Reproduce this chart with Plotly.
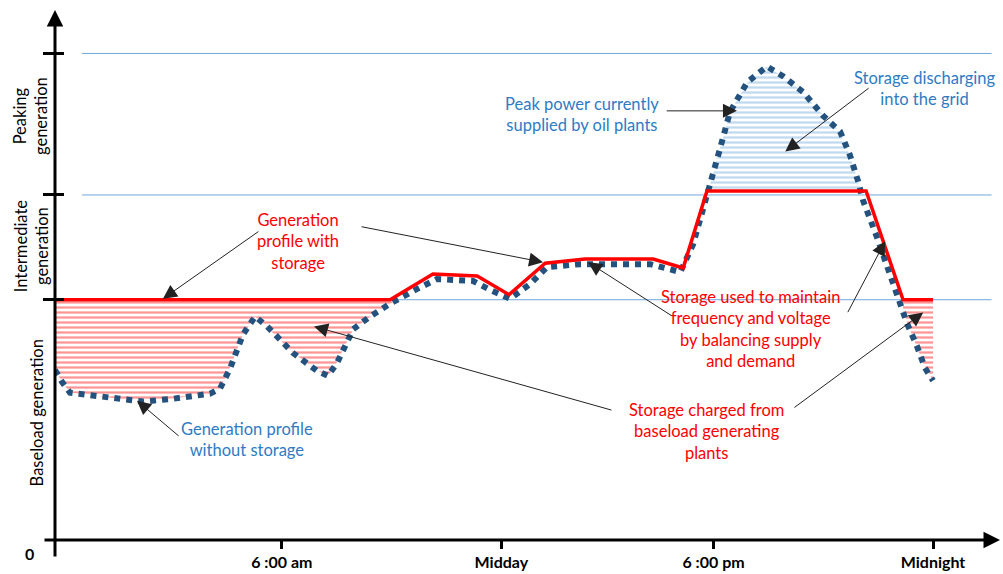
import numpy as np
import plotly.graph_objects as go

# x: hours since midnight, y: load (arbitrary units, baseload level = 100)
hours_with = [0.0, 9.16, 10.33, 11.54, 12.41, 13.40, 14.49, 16.35, 17.17, 17.82, 22.17, 23.18, 24.0]
load_with = [100, 100, 110.7, 109.9, 102.1, 115.2, 116.9, 116.9, 113.2, 145.3, 145.3, 100, 100]

hours_without = [0.0, 0.19, 0.41, 0.87, 1.97, 2.41, 3.23, 4.24, 4.51, 4.78, 5.14, 5.47, 5.80,
                 6.51, 7.16, 7.46, 7.71, 8.15, 8.61, 9.16, 9.90, 10.44, 11.43, 11.89, 12.44,
                 12.99, 13.45, 14.35, 16.27, 17.09, 17.44, 17.63, 17.91, 18.18, 18.45, 18.92,
                 19.46, 19.90, 20.45, 21.0, 21.46, 21.73, 21.95, 22.09, 22.47, 22.83, 23.05,
                 23.29, 23.56, 23.78, 24.0]
load_without = [70.8, 65.8, 61.3, 60.5, 58.4, 57.6, 58.8, 60.9, 63.0, 71.2, 85.6, 93.0, 88.9,
                77.8, 70.4, 68.3, 73.7, 87.7, 93.0, 98.4, 104.5, 108.6, 107.8, 104.1, 100.4,
                106.6, 113.6, 114.8, 114.8, 111.5, 123.0, 132.9, 147.7, 163.0, 178.2, 190.5,
                197.1, 193.0, 186.4, 176.5, 170.0, 160.1, 149.4, 141.2, 125.9, 109.5, 101.2,
                90.1, 80.7, 71.6, 66.3]

level_values = [100, 143.6, 202.5]          # baseload / intermediate / peaking limits
tick_pos = [6.2, 12.2, 18.0, 24.0]
tick_labels = ["6 :00 am", "Midday", "6 :00 pm", "Midnight"]
charge_windows = [(0.0, 9.3), (23.18, 24.0)]
discharge_windows = [(17.8, 22.2)]

X_MAX = 25.83
Y_MAX = 220.58

RED = "#FF0000"
DARKBLUE = "#24527F"
LIGHTBLUE = "#6FA8DC"
TEXTBLUE = "#2E7BC4"
FONT = "Lato"

fig = go.Figure()

# Storage charging (red hatch) regions
for a, b in charge_windows:
    xs = np.linspace(a, b, 300)
    r = np.interp(xs, hours_with, load_with)
    bl = np.interp(xs, hours_without, load_without)
    low = np.minimum(bl, r)
    fig.add_trace(go.Scatter(
        x=np.concatenate([xs, xs[::-1]]), y=np.concatenate([r, low[::-1]]),
        mode="lines", line=dict(width=0), fill="toself", fillcolor="rgba(255,0,0,0.0)",
        fillpattern=dict(shape="-", fgcolor="#FF2A2A", bgcolor="white", size=5, solidity=0.45),
        hoverinfo="skip", showlegend=False))

# Storage discharging (blue hatch) regions
for a, b in discharge_windows:
    xs = np.linspace(a, b, 300)
    r = np.interp(xs, hours_with, load_with)
    bl = np.interp(xs, hours_without, load_without)
    high = np.maximum(bl, r)
    fig.add_trace(go.Scatter(
        x=np.concatenate([xs, xs[::-1]]), y=np.concatenate([r, high[::-1]]),
        mode="lines", line=dict(width=0), fill="toself", fillcolor="rgba(91,155,213,0.0)",
        fillpattern=dict(shape="-", fgcolor="#80B3E0", bgcolor="white", size=5, solidity=0.45),
        hoverinfo="skip", showlegend=False))

# Generation profile without storage
fig.add_trace(go.Scatter(x=hours_without, y=load_without, mode="lines",
                         line=dict(color=DARKBLUE, width=6, dash="dot"),
                         hoverinfo="skip", showlegend=False))
# Generation profile with storage
fig.add_trace(go.Scatter(x=hours_with, y=load_with, mode="lines",
                         line=dict(color=RED, width=3.5),
                         hoverinfo="skip", showlegend=False))
# dummy trace for inside y ticks
fig.add_trace(go.Scatter(x=[None], y=[None], yaxis="y2", hoverinfo="skip", showlegend=False))

shapes = []
for lv in level_values:
    shapes.append(dict(type="line", xref="x", yref="y", x0=0.74, x1=25.6, y0=lv, y1=lv,
                       line=dict(color=LIGHTBLUE, width=1), layer="below"))

annotations = []
# axes with arrows
annotations.append(dict(x=0, y=1.0, xref="paper", yref="paper", ax=0, ay=548, text="",
                        showarrow=True, arrowhead=2, arrowsize=1.1, arrowwidth=3, arrowcolor="black"))
annotations.append(dict(x=1.0, y=0, xref="paper", yref="paper", ax=-957, ay=0, text="",
                        showarrow=True, arrowhead=2, arrowsize=1.1, arrowwidth=3, arrowcolor="black"))

# callout texts: (text, x, y, color)
texts = [
    ("Generation<br>profile with<br>storage", 6.64, 124.3, RED),
    ("Generation profile<br>without storage", 5.25, 42.0, TEXTBLUE),
    ("Storage charged from<br>baseload generating<br>plants", 17.82, 45.3, RED),
    ("Storage used to maintain<br>frequency and voltage<br>by balancing supply<br>and demand", 19.0, 87.7, RED),
    ("Peak power currently<br>supplied by oil plants", 14.41, 177.0, TEXTBLUE),
    ("Storage discharging<br>into the grid", 23.76, 188.1, TEXTBLUE),
]
for t, x, y, c in texts:
    annotations.append(dict(x=x, y=y, xref="x", yref="y", text=t, showarrow=False,
                            xanchor="center", yanchor="middle", align="center",
                            font=dict(family=FONT, size=16.5, color=c)))

# callout arrows: (head x, head y, tail x, tail y)
arrows = [
    (2.95, 100.4, 5.60, 128.8),
    (13.34, 115.6, 8.34, 130.5),
    (2.24, 58.0, 3.42, 42.8),
    (7.08, 88.9, 15.25, 53.9),
    (23.73, 94.7, 20.17, 54.7),
    (14.57, 115.6, 16.89, 93.0),
    (22.69, 124.3, 21.65, 94.2),
    (18.64, 178.6, 16.68, 178.6),
    (19.96, 161.7, 22.28, 188.5),
]
for hx, hy, tx, ty in arrows:
    annotations.append(dict(x=hx, y=hy, xref="x", yref="y", ax=tx, ay=ty, axref="x", ayref="y",
                            text="", showarrow=True, arrowhead=2, arrowsize=2.8, arrowwidth=1,
                            arrowcolor="#222222"))

# y-axis category labels (paper coords, left of plot)
ylabels = [
    ("Baseload generation", -0.019, 0.239),
    ("Intermediate<br>generation", -0.0254, 0.556),
    ("Peaking<br>generation", -0.0254, 0.800),
]
for t, x, y in ylabels:
    annotations.append(dict(x=x, y=y, xref="paper", yref="paper", text=t, showarrow=False,
                            textangle=-90, xanchor="center", yanchor="middle", align="center",
                            font=dict(family=FONT, size=16.5, color="black")))
annotations.append(dict(x=-0.0275, y=-0.025, xref="paper", yref="paper", text="<b>0</b>",
                        showarrow=False, xanchor="center", yanchor="middle",
                        font=dict(family=FONT, size=16, color="black")))

fig.update_layout(
    width=1003, height=574,
    margin=dict(l=55, r=3, t=10, b=28),
    paper_bgcolor="white", plot_bgcolor="white",
    xaxis=dict(range=[0, X_MAX], showgrid=False, zeroline=False, showline=False,
               tickvals=tick_pos, ticktext=["<b>" + s + "</b>" for s in tick_labels],
               ticks="outside", ticklen=8, tickwidth=3, tickcolor="black",
               tickfont=dict(family=FONT, size=16, color="black")),
    yaxis=dict(range=[0, Y_MAX], showgrid=False, zeroline=False, showline=False,
               tickvals=level_values, showticklabels=False,
               ticks="outside", ticklen=11, tickwidth=2.5, tickcolor="black"),
    yaxis2=dict(range=[0, Y_MAX], overlaying="y", anchor="x", side="left", showgrid=False,
                zeroline=False, showline=False, tickvals=level_values, showticklabels=False,
                ticks="inside", ticklen=9, tickwidth=2.5, tickcolor="black"),
    shapes=shapes, annotations=annotations, showlegend=False,
)

fig.write_html("out.html", config={"displayModeBar": False},
               post_script="document.body.style.margin='0px';")
